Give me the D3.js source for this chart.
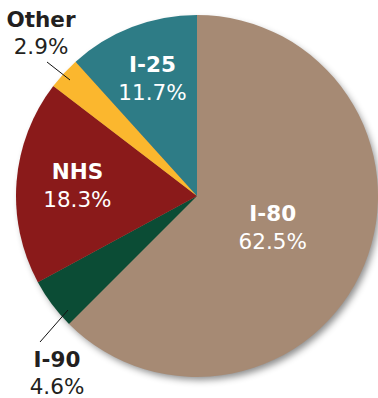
<!DOCTYPE html>
<html><head><meta charset="utf-8">
<script src="https://cdn.jsdelivr.net/npm/d3@7"></script>
<style>html,body{margin:0;padding:0;background:#fff;}svg{display:block;}</style>
</head><body>
<svg id="c" width="378" height="398"></svg>
<script>
const categories = ["I-80", "I-90", "NHS", "Other", "I-25"];
const values = [62.5, 4.6, 18.3, 2.9, 11.7];
const colors = ["#A68A74", "#0B4C35", "#8A1A1A", "#FBB72E", "#2E7C86"];

const W = 378, H = 398, cx = 197, cy = 196, R = 181;
const svg = d3.select("#c");
const defs = svg.append("defs");
const f = defs.append("filter").attr("id","sh").attr("x","-20%").attr("y","-20%").attr("width","140%").attr("height","140%");
f.append("feDropShadow").attr("dx",3).attr("dy",4).attr("stdDeviation",3.5).attr("flood-color","#000").attr("flood-opacity",0.45);

const data = categories.map((c,i)=>({cat:c, v:values[i], col:colors[i]}));
const pie = d3.pie().value(d=>d.v).sort(null);
const arcs = pie(data);
const arc = d3.arc().innerRadius(0).outerRadius(R);
const g = svg.append("g").attr("transform",`translate(${cx},${cy})`);
g.append("circle").attr("r",R-1).attr("fill","#A68A74").attr("filter","url(#sh)");
g.selectAll("path").data(arcs).join("path").attr("d",arc).attr("fill",d=>d.data.col);

const font = "'DejaVu Sans', sans-serif";
const FS = 21.5;
const lab = {
  "I-80": {r:82, dy:-4, fill:"#fff"},
  "NHS": {r:120, dy:-6, fill:"#fff"},
  "I-25": {r:124, dy:-6, fill:"#fff"},
};
arcs.forEach(a=>{
  const L = lab[a.data.cat];
  if(!L) return;
  const m = (a.startAngle+a.endAngle)/2;
  const x = L.r*Math.sin(m), y = -L.r*Math.cos(m) + L.dy;
  g.append("text").attr("x",x).attr("y",y-2).attr("text-anchor","middle")
    .attr("font-family",font).attr("font-weight","bold").attr("font-size",FS).attr("fill",L.fill).text(a.data.cat);
  g.append("text").attr("x",x).attr("y",y+26).attr("text-anchor","middle")
    .attr("font-family",font).attr("font-size",FS).attr("fill",L.fill).text(a.data.v.toFixed(1)+"%");
});
const outside = {
  "Other": {tx:41, ty:27, l1:[47,62], l2:[70,80]},
  "I-90": {tx:57, ty:367, l1:[40,342], l2:[68,310]},
};
arcs.forEach(a=>{
  const O = outside[a.data.cat];
  if(!O) return;
  svg.append("line").attr("x1",O.l1[0]).attr("y1",O.l1[1]).attr("x2",O.l2[0]).attr("y2",O.l2[1]).attr("stroke","#111").attr("stroke-width",1);
  svg.append("text").attr("x",O.tx).attr("y",O.ty).attr("text-anchor","middle")
    .attr("font-family",font).attr("font-weight","bold").attr("font-size",FS).attr("fill","#231f20").text(a.data.cat);
  svg.append("text").attr("x",O.tx).attr("y",O.ty+27).attr("text-anchor","middle")
    .attr("font-family",font).attr("font-size",FS).attr("fill","#231f20").text(a.data.v.toFixed(1)+"%");
});
</script>
</body></html>
